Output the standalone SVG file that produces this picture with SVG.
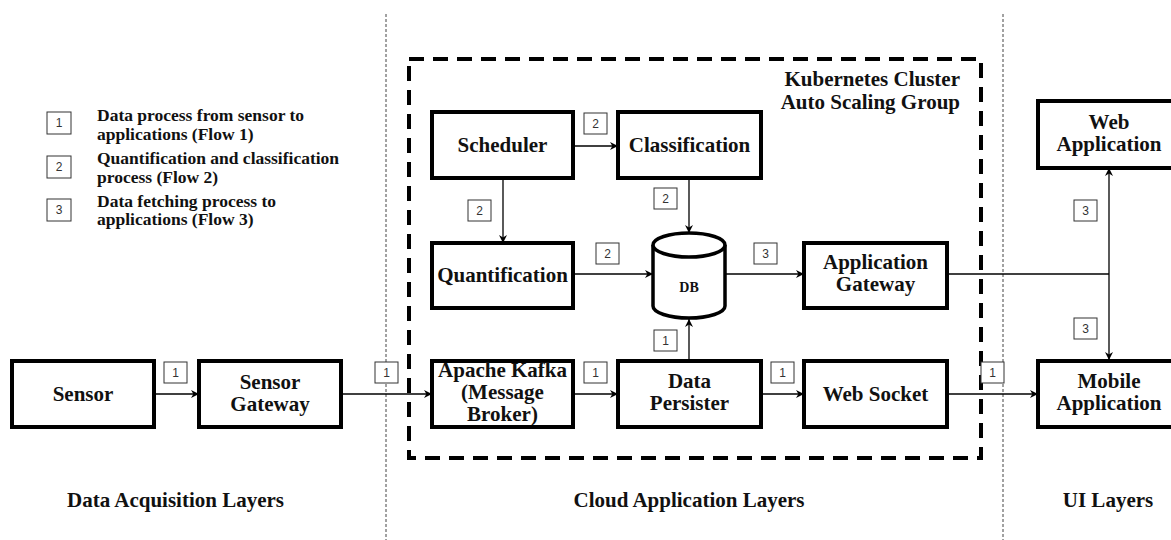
<svg xmlns="http://www.w3.org/2000/svg" width="1171" height="540" viewBox="0 0 1171 540">
<style>
.node{fill:#fff;stroke:#000;stroke-width:4}
.nt{font-family:'Liberation Serif','Times New Roman',Times,'DejaVu Serif',serif;font-weight:bold;font-size:21px;fill:#111;text-anchor:middle}
.ntr{font-family:'Liberation Serif','Times New Roman',Times,'DejaVu Serif',serif;font-weight:bold;font-size:21px;fill:#111;text-anchor:end}
.lb{fill:#fff;stroke:#333;stroke-width:1}
.lt{font-family:'Liberation Sans',Arial,sans-serif;font-size:12px;fill:#333;text-anchor:middle}
.edge{fill:none;stroke:#000;stroke-width:1.3}
.sep{fill:none;stroke:#444;stroke-width:1;stroke-dasharray:3 2}
.leg{font-family:'Liberation Serif','Times New Roman',Times,'DejaVu Serif',serif;font-weight:bold;font-size:17.5px;fill:#111}
</style>
<defs>
<marker id="arr" viewBox="0 0 10 10" refX="10" refY="5" markerWidth="8" markerHeight="8" markerUnits="userSpaceOnUse" orient="auto-start-reverse">
<path d="M0,0 L10,5 L0,10 L3,5 z" fill="#000"/>
</marker>
</defs>
<rect width="1171" height="540" fill="#fff"/>

<g id="separators">
<line class="sep" x1="386" y1="14" x2="386" y2="540"/>
<line class="sep" x1="1003" y1="14" x2="1003" y2="540"/>
</g>

<g id="cluster">
<rect x="409" y="59" width="572" height="399" fill="none" stroke="#000" stroke-width="4" stroke-dasharray="15 9"/>
<text class="ntr" x="960" y="86">Kubernetes Cluster</text>
<text class="ntr" x="960" y="109">Auto Scaling Group</text>
</g>

<g id="legend">
<rect class="lb" x="47" y="112" width="24" height="22"/><text class="lt" x="59" y="127">1</text>
<text class="leg" x="97" y="121">Data process from sensor to</text>
<text class="leg" x="97" y="140">applications (Flow 1)</text>
<rect class="lb" x="47" y="156" width="24" height="22"/><text class="lt" x="59" y="171">2</text>
<text class="leg" x="97" y="164">Quantification and classification</text>
<text class="leg" x="97" y="183">process (Flow 2)</text>
<rect class="lb" x="47" y="199" width="24" height="22"/><text class="lt" x="59" y="214">3</text>
<text class="leg" x="97" y="207">Data fetching process to</text>
<text class="leg" x="97" y="225">applications (Flow 3)</text>
</g>

<g id="connectors">
<line class="edge" x1="154" y1="394" x2="199" y2="394" marker-end="url(#arr)"/>
<line class="edge" x1="341" y1="394" x2="432" y2="394" marker-end="url(#arr)"/>
<line class="edge" x1="573" y1="394" x2="618" y2="394" marker-end="url(#arr)"/>
<line class="edge" x1="761" y1="394" x2="804" y2="394" marker-end="url(#arr)"/>
<line class="edge" x1="947" y1="394" x2="1038" y2="394" marker-end="url(#arr)"/>
<line class="edge" x1="689" y1="361" x2="689" y2="319" marker-end="url(#arr)"/>
<line class="edge" x1="573" y1="274" x2="653" y2="274" marker-end="url(#arr)"/>
<line class="edge" x1="725" y1="274" x2="804" y2="274" marker-end="url(#arr)"/>
<line class="edge" x1="947" y1="274" x2="1109" y2="274"/>
<line class="edge" x1="1109" y1="168" x2="1109" y2="360" marker-start="url(#arr)" marker-end="url(#arr)"/>
<line class="edge" x1="573" y1="146" x2="618" y2="146" marker-end="url(#arr)"/>
<line class="edge" x1="503" y1="178" x2="503" y2="243" marker-end="url(#arr)"/>
<line class="edge" x1="689" y1="178" x2="689" y2="233" marker-end="url(#arr)"/>
</g>

<g id="labels">
<rect class="lb" x="164" y="362" width="23" height="21"/><text class="lt" x="175.5" y="377">1</text>
<rect class="lb" x="375" y="362" width="23" height="21"/><text class="lt" x="386.5" y="377">1</text>
<rect class="lb" x="584" y="362" width="23" height="21"/><text class="lt" x="595.5" y="377">1</text>
<rect class="lb" x="771" y="362" width="23" height="21"/><text class="lt" x="782.5" y="377">1</text>
<rect class="lb" x="981" y="362" width="23" height="21"/><text class="lt" x="992.5" y="377">1</text>
<rect class="lb" x="654" y="330" width="23" height="21"/><text class="lt" x="665.5" y="345">1</text>
<rect class="lb" x="596" y="243" width="23" height="21"/><text class="lt" x="607.5" y="258">2</text>
<rect class="lb" x="754" y="243" width="23" height="21"/><text class="lt" x="765.5" y="258">3</text>
<rect class="lb" x="1074" y="200" width="23" height="21"/><text class="lt" x="1085.5" y="215">3</text>
<rect class="lb" x="1074" y="318" width="23" height="21"/><text class="lt" x="1085.5" y="333">3</text>
<rect class="lb" x="584" y="113" width="23" height="21"/><text class="lt" x="595.5" y="128">2</text>
<rect class="lb" x="468" y="200" width="23" height="21"/><text class="lt" x="479.5" y="215">2</text>
<rect class="lb" x="654" y="188" width="23" height="21"/><text class="lt" x="665.5" y="203">2</text>
</g>

<g id="sensor"><rect class="node" x="12" y="361" width="142" height="66"/><text class="nt" x="83" y="401">Sensor</text></g>
<g id="sensor-gateway"><rect class="node" x="199" y="361" width="142" height="66"/><text class="nt" x="270" y="389">Sensor</text><text class="nt" x="270" y="411">Gateway</text></g>
<g id="scheduler"><rect class="node" x="432" y="112" width="141" height="66"/><text class="nt" x="502.5" y="152">Scheduler</text></g>
<g id="classification"><rect class="node" x="618" y="112" width="143" height="66"/><text class="nt" x="689.5" y="152">Classification</text></g>
<g id="quantification"><rect class="node" x="432" y="243" width="141" height="65"/><text class="nt" x="502.5" y="282">Quantification</text></g>
<g id="db">
<path d="M653,245 L653,306 A36,12 0 0 0 725,306 L725,245" fill="#fff" stroke="#000" stroke-width="3.5"/>
<ellipse cx="689" cy="245" rx="36" ry="12" fill="#fff" stroke="#000" stroke-width="3.5"/>
<text class="nt" x="689" y="292" font-size="14" style="font-size:14px">DB</text>
</g>
<g id="kafka"><rect class="node" x="432" y="361" width="141" height="66"/><text class="nt" x="502.5" y="377">Apache Kafka</text><text class="nt" x="502.5" y="399">(Message</text><text class="nt" x="502.5" y="421">Broker)</text></g>
<g id="data-persister"><rect class="node" x="618" y="361" width="143" height="66"/><text class="nt" x="689.5" y="388">Data</text><text class="nt" x="689.5" y="410">Persister</text></g>
<g id="app-gateway"><rect class="node" x="804" y="243" width="143" height="65"/><text class="nt" x="875.5" y="269">Application</text><text class="nt" x="875.5" y="291">Gateway</text></g>
<g id="web-socket"><rect class="node" x="804" y="361" width="143" height="66"/><text class="nt" x="875.5" y="401">Web Socket</text></g>
<g id="web-app"><rect class="node" x="1038" y="101" width="142" height="67"/><text class="nt" x="1109" y="129">Web</text><text class="nt" x="1109" y="151">Application</text></g>
<g id="mobile-app"><rect class="node" x="1038" y="361" width="142" height="66"/><text class="nt" x="1109" y="388">Mobile</text><text class="nt" x="1109" y="410">Application</text></g>

<g id="layers">
<text class="nt" x="175.5" y="507">Data Acquisition Layers</text>
<text class="nt" x="689" y="507">Cloud Application Layers</text>
<text class="nt" x="1108" y="507">UI Layers</text>
</g>
</svg>
